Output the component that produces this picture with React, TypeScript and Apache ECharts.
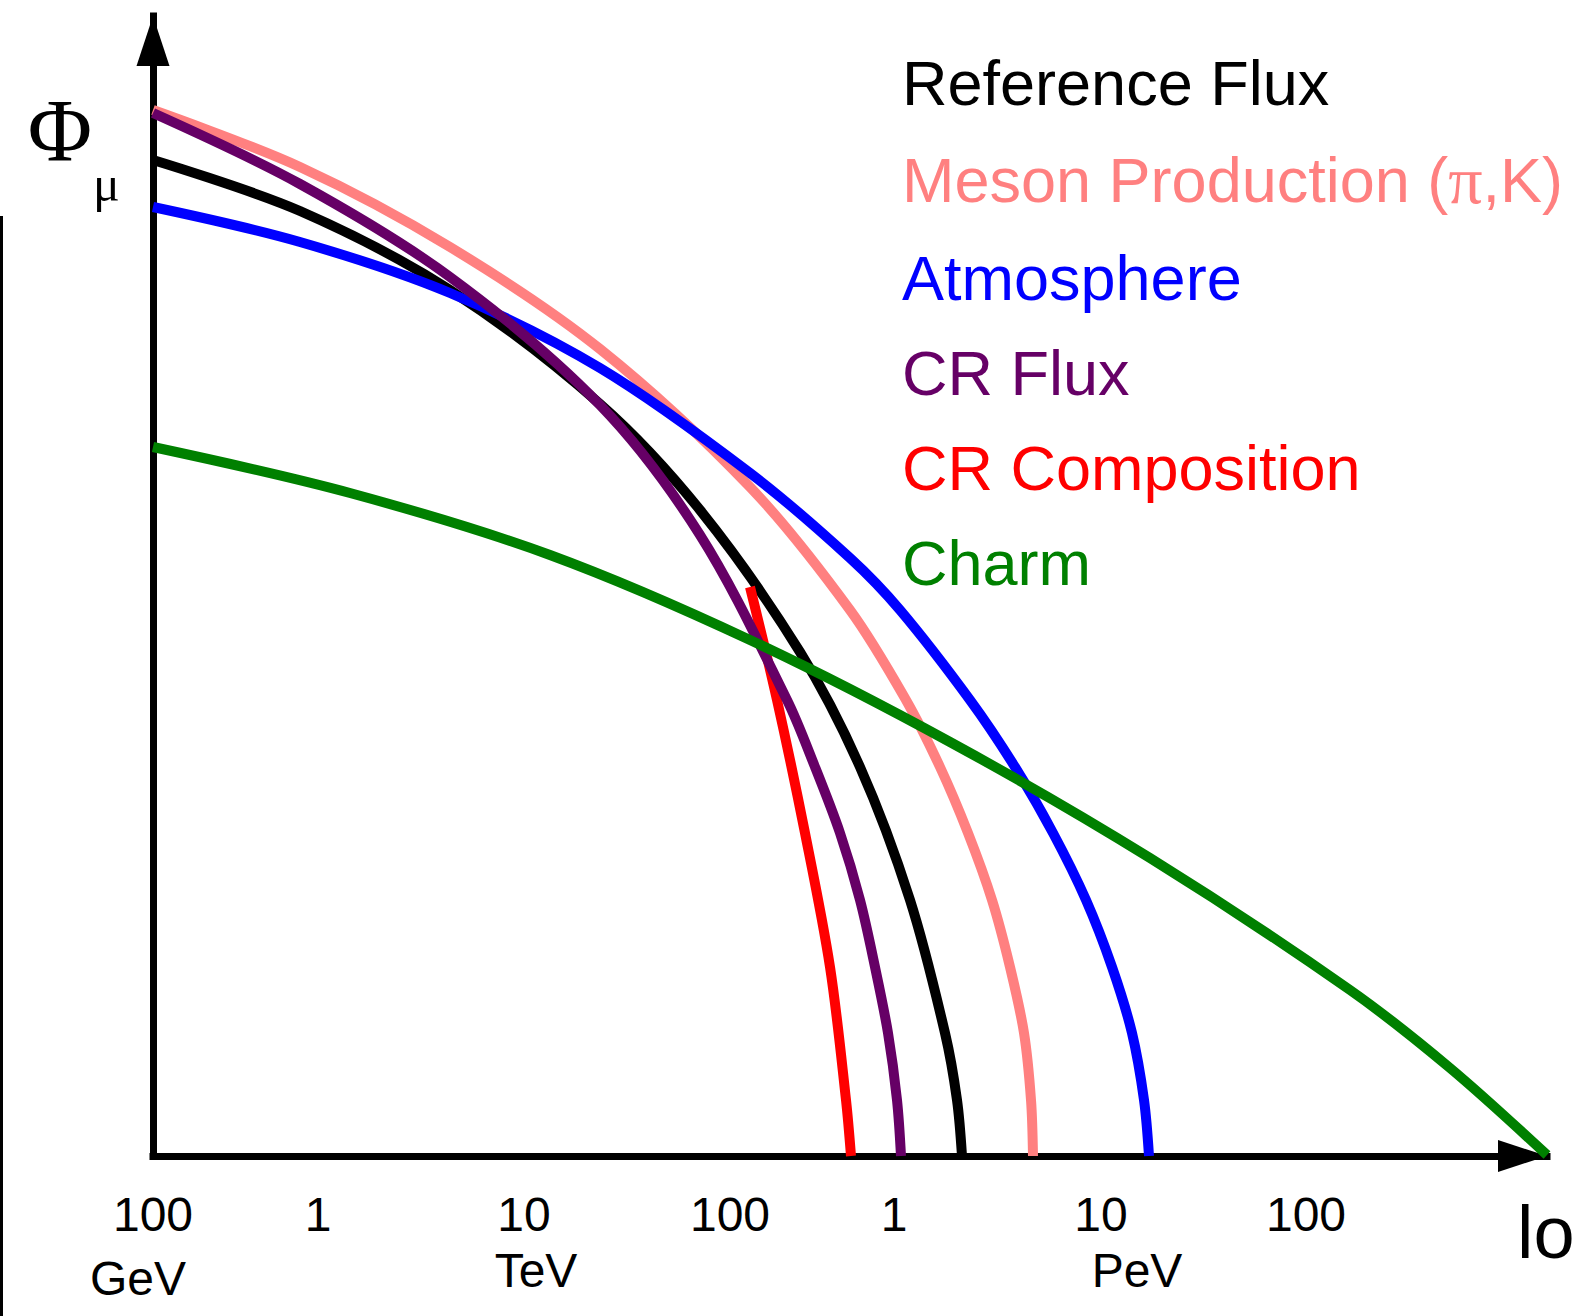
import React, { useEffect, useRef } from "react";
import * as echarts from "echarts";

// ---- Data (x: position along the log-energy axis, y: flux, both in arbitrary schematic units) ----
const legendNames = [
  "Reference Flux",
  "Meson Production (π,K)",
  "Atmosphere",
  "CR Flux",
  "CR Composition",
  "Charm",
];
const legendColors = ["#000000", "#ff8080", "#0000ff", "#660066", "#ff0000", "#008000"];

const referenceFlux = [
  [0, 996], [147, 945], [297, 866], [447, 752], [547, 646], [647, 504], [707, 389],
  [757, 256], [792, 123], [804, 56], [809, 0],
];
const mesonProduction = [
  [0, 1046], [147, 989], [297, 909], [447, 807], [597, 669], [697, 546], [753, 456],
  [787, 389], [815, 323], [839, 256], [857, 189], [871, 123], [878, 56], [880, 0],
];
const atmosphere = [
  [0, 949], [147, 914], [297, 863], [447, 788], [597, 683], [697, 598], [747, 546],
  [817, 456], [862, 389], [900, 323], [933, 256], [959, 189], [979, 123], [991, 56],
  [996, 0],
];
const crFlux = [
  [0, 1043], [147, 972], [297, 879], [447, 751], [547, 621], [634, 456], [662, 389],
  [687, 323], [707, 256], [722, 189], [735, 123], [744, 56], [748, 0],
];
const crComposition = [
  [597, 569], [624, 456], [652, 323], [677, 189], [693, 56], [698, 0],
];
const charm = [
  [0, 709], [197, 663], [397, 601], [597, 516], [797, 414], [997, 298], [1197, 166],
  [1297, 88], [1394, 1],
];

const tickValues = [0, 165, 371, 577, 741, 948, 1153];
const tickLabels = ["100", "1", "10", "100", "1", "10", "100"];
const unitValues = [-15, 383, 984];
const unitLabels = ["GeV", "TeV", "PeV"];

const X_MAX = 1394;
const Y_MAX = 1140;

// layout constants (pixels)
const UNIT_ROW_Y = [1278, 1270, 1270];

export default function App() {
  const ref = useRef<HTMLDivElement | null>(null);

  useEffect(() => {
    if (!ref.current) return;
    const chart = echarts.init(ref.current, undefined, { renderer: "svg" });

    const sans = "'Liberation Sans', Arial, Helvetica, sans-serif";
    const serif = "'Liberation Serif', 'Times New Roman', serif";

    // Each curve is a custom series: its data points are mapped through the cartesian
    // axes (api.coord) and joined by one smooth spline.
    const mkCurve = (name: string, data: number[][], color: string) => ({
      name,
      type: "custom",
      coordinateSystem: "cartesian2d",
      data,
      encode: { x: 0, y: 1 },
      clip: false,
      silent: true,
      itemStyle: { color },
      renderItem: (params: any, api: any) => {
        if (params.dataIndex !== 0) return null;
        const pts = data.map((p) => api.coord(p));
        return {
          type: "polyline",
          silent: true,
          shape: { points: pts, smooth: 0.33 },
          style: {
            stroke: color,
            lineWidth: 10,
            fill: "none",
            lineCap: "butt",
            lineJoin: "round",
          },
        };
      },
    });

    const option: any = {
      animation: false,
      backgroundColor: "#ffffff",
      grid: { left: 153, top: 16, width: X_MAX, height: Y_MAX, containLabel: false },
      legend: {
        orient: "vertical",
        left: 892,
        top: 46,
        icon: "none",
        itemWidth: 0,
        itemHeight: 14,
        itemGap: 32,
        selectedMode: false,
        data: legendNames.map((n, i) => ({ name: n, textStyle: { color: legendColors[i] } })),
        formatter: (name: string) => name.replace("π", "{pi|π}"),
        textStyle: {
          fontFamily: sans,
          fontSize: 63,
          lineHeight: 63,
          rich: {
            pi: { fontFamily: serif, fontSize: 68, lineHeight: 63, color: "#ff8080" },
          },
        },
      },
      xAxis: {
        type: "value",
        min: 0,
        max: X_MAX,
        splitLine: { show: false },
        axisTick: { show: false },
        axisLine: {
          show: true,
          symbol: ["none", "triangle"],
          symbolSize: [32, 49],
          symbolOffset: [0, -24.5],
          lineStyle: { color: "#000", width: 7, cap: "square" },
        },
        axisLabel: {
          show: true,
          customValues: tickValues,
          formatter: (v: number) => {
            const i = tickValues.indexOf(v);
            return i >= 0 ? tickLabels[i] : "";
          },
          margin: 34,
          color: "#000",
          fontFamily: sans,
          fontSize: 48,
          lineHeight: 48,
          showMinLabel: true,
          showMaxLabel: true,
          hideOverlap: false,
        },
      },
      yAxis: {
        type: "value",
        min: 0,
        max: Y_MAX,
        splitLine: { show: false },
        axisTick: { show: false },
        axisLabel: { show: false },
        axisLine: {
          show: true,
          onZero: false,
          symbol: ["none", "triangle"],
          symbolSize: [33, 50],
          symbolOffset: [0, -25],
          lineStyle: { color: "#000", width: 7, cap: "square" },
        },
      },
      series: [
        mkCurve("Meson Production (π,K)", mesonProduction, "#ff8080"),
        mkCurve("Reference Flux", referenceFlux, "#000000"),
        mkCurve("Atmosphere", atmosphere, "#0000ff"),
        mkCurve("CR Composition", crComposition, "#ff0000"),
        mkCurve("CR Flux", crFlux, "#660066"),
        mkCurve("Charm", charm, "#008000"),
      ],
    };

    chart.setOption(option);

    const unitEls = unitValues.map((v, i) => {
      const px = chart.convertToPixel({ xAxisIndex: 0 }, v) as number;
      return {
        type: "text",
        x: px,
        y: UNIT_ROW_Y[i],
        silent: true,
        style: {
          text: unitLabels[i],
          fill: "#000",
          font: `48px ${sans}`,
          align: "center",
          verticalAlign: "middle",
        },
      };
    });

    chart.setOption({
      graphic: [
        {
          type: "line",
          silent: true,
          shape: { x1: 1.5, y1: 216, x2: 1.5, y2: 1316 },
          style: { stroke: "#000", lineWidth: 3 },
        },
        {
          type: "text",
          x: 60,
          y: 130,
          silent: true,
          style: { text: "Φ", fill: "#000", font: `88px ${serif}`, align: "center", verticalAlign: "middle" },
        },
        {
          type: "text",
          x: 93,
          y: 184,
          silent: true,
          style: { text: "μ", fill: "#000", font: `50px ${serif}`, align: "left", verticalAlign: "middle" },
        },
        {
          type: "text",
          x: 1517,
          y: 1232,
          silent: true,
          style: { text: "lo", fill: "#000", font: `74px ${sans}`, align: "left", verticalAlign: "middle" },
        },
        ...unitEls,
      ],
    });

    return () => {
      chart.dispose();
    };
  }, []);

  return (
    <div
      ref={ref}
      style={{ position: "fixed", left: 0, top: 0, width: 1578, height: 1316, background: "#fff" }}
    />
  );
}
